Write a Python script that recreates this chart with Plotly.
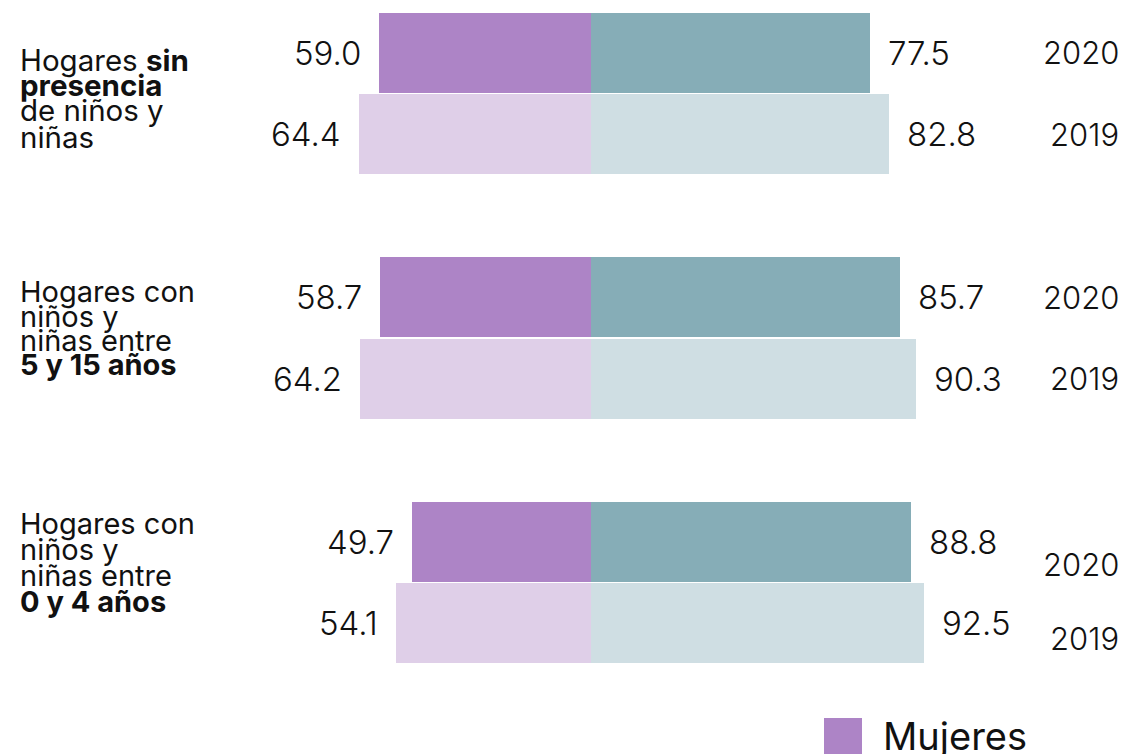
import plotly.graph_objects as go

# ---- data ----
groups = [
    ["Hogares <b>sin</b>", "<b>presencia</b>", "de niños y", "niñas"],
    ["Hogares con", "niños y", "niñas entre", "<b>5 y 15 años</b>"],
    ["Hogares con", "niños y", "niñas entre", "<b>0 y 4 años</b>"],
]
years = ["2020", "2019"]
mujeres_2020 = [59.0, 58.7, 49.7]
mujeres_2019 = [64.4, 64.2, 54.1]
hombres_2020 = [77.5, 85.7, 88.8]
hombres_2019 = [82.8, 90.3, 92.5]

# ---- styling ----
C_M20, C_M19 = "#AD84C6", "#DFCFE8"
C_H20, C_H19 = "#86ADB7", "#CFDEE3"
FONT = "Inter"
TXT = "#111111"
W, H = 1127, 754
MT, MB = 12, 90
label_sizes = [29.5, 29, 29]
line_offsets = [[-34, -9, 16, 43], [-47, -22, 2, 26], [-59, -33, -7, 19]]
year_shift = [[0, 0], [0, 0], [23, 15]]

pos20 = [3 * i for i in range(len(groups))]
pos19 = [3 * i + 1 for i in range(len(groups))]

fig = go.Figure()
fig.add_bar(y=pos20, x=[-v for v in mujeres_2020], orientation="h",
            marker=dict(color=C_M20, line=dict(width=0)), width=0.98, name="Mujeres 2020")
fig.add_bar(y=pos19, x=[-v for v in mujeres_2019], orientation="h",
            marker=dict(color=C_M19, line=dict(width=0)), width=0.98, name="Mujeres 2019")
fig.add_bar(y=pos20, x=hombres_2020, orientation="h",
            marker=dict(color=C_H20, line=dict(width=0)), width=0.98, name="Hombres 2020")
fig.add_bar(y=pos19, x=hombres_2019, orientation="h",
            marker=dict(color=C_H19, line=dict(width=0)), width=0.98, name="Hombres 2019")

ann = []
numfont = dict(family=FONT, size=33, color=TXT, weight=300)
yearfont = dict(family=FONT, size=31, color=TXT, weight=300)
for i in range(len(groups)):
    for p, mv, hv in ((pos20[i], mujeres_2020[i], hombres_2020[i]),
                      (pos19[i], mujeres_2019[i], hombres_2019[i])):
        ann.append(dict(x=-mv, y=p, xref="x", yref="y", text=f"{mv:.1f}",
                        xanchor="right", yanchor="middle", xshift=-16,
                        showarrow=False, font=numfont))
        ann.append(dict(x=hv, y=p, xref="x", yref="y", text=f"{hv:.1f}",
                        xanchor="left", yanchor="middle", xshift=16,
                        showarrow=False, font=numfont))
    for k, (p, yr) in enumerate(((pos20[i], years[0]), (pos19[i], years[1]))):
        ann.append(dict(x=1121 / W, y=p, xref="paper", yref="y", text=yr,
                        xanchor="right", yanchor="middle", yshift=-year_shift[i][k],
                        showarrow=False, font=yearfont))
    center = pos20[i] + 0.5
    for line, off in zip(groups[i], line_offsets[i]):
        ann.append(dict(x=18 / W, y=center, xref="paper", yref="y", text=line,
                        xanchor="left", yanchor="middle", yshift=-off,
                        showarrow=False,
                        font=dict(family=FONT, size=label_sizes[i], color=TXT)))

plot_h = H - MT - MB
def py(px):
    return (H - MB - px) / plot_h

ann.append(dict(x=881 / W, y=py(736), xref="paper", yref="paper", text="Mujeres",
                xanchor="left", yanchor="middle", showarrow=False,
                font=dict(family=FONT, size=38, color=TXT)))

shapes = [dict(type="rect", xref="paper", yref="paper", x0=824 / W, x1=862 / W,
               y0=py(790), y1=py(718), fillcolor=C_M20, line=dict(width=0))]

fig.update_layout(
    width=W, height=H,
    margin=dict(l=0, r=0, t=MT, b=MB, pad=0),
    barmode="relative", bargap=0,
    plot_bgcolor="white", paper_bgcolor="white",
    showlegend=False,
    xaxis=dict(range=[-591 / 3.6, 536 / 3.6], visible=False, fixedrange=True),
    yaxis=dict(range=[7.5, -0.5], visible=False, fixedrange=True),
    annotations=ann, shapes=shapes,
    font=dict(family=FONT),
)

fig.write_html("out.html", config={"displayModeBar": False},
               post_script="document.body.style.margin='0';document.body.style.overflow='hidden';")
